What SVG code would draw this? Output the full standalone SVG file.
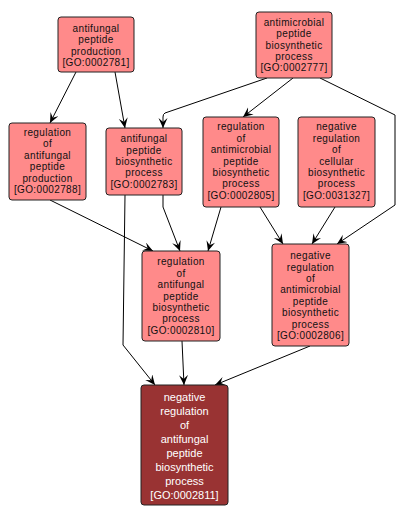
<svg xmlns="http://www.w3.org/2000/svg" width="405" height="519" viewBox="0 0 405 519">
<defs>
<style>
.n rect{fill:#ff8a8a;stroke:#222;stroke-width:1}
.n text{font-family:"Liberation Sans",Arial,sans-serif;font-size:10px;letter-spacing:0.35px;fill:#111;text-anchor:middle}
.d rect{fill:#993333;stroke:#222;stroke-width:1}
.d text{font-family:"Liberation Sans",Arial,sans-serif;font-size:11px;fill:#fff;text-anchor:middle}
.e path{fill:none;stroke:#000;stroke-width:1;marker-end:url(#ah)}
</style>
<marker id="ah" markerUnits="userSpaceOnUse" markerWidth="12" markerHeight="10" refX="10" refY="4.5" orient="auto" viewBox="0 0 12 10">
<path d="M0,0 L10,4.5 L0,9 L4,4.5 Z" fill="#000"/>
</marker>
</defs>
<rect width="405" height="519" fill="#fff"/>
<g id="edges" class="e">
<path d="M76,72 L50,123"/>
<path d="M115,72 L125,128"/>
<path d="M267,78 L165,113 Q163,114 163,117 L163,128"/>
<path d="M293,78 L243,117"/>
<path d="M320,78 L395,115 L395,205 L337,244"/>
<path d="M50,200 L153,251"/>
<path d="M163,195 L163,207 L180,251"/>
<path d="M125,195 L123,345 L155,385"/>
<path d="M221,207 L208,251"/>
<path d="M260,207 L283,244"/>
<path d="M335,207 L312,244"/>
<path d="M182,341 L184,385"/>
<path d="M310,346 L215,385"/>
</g>
<g id="GO0002781" class="n">
<rect x="58" y="17" width="76" height="55" rx="3"/>
<text x="96" y="32">antifungal</text>
<text x="96" y="43.4">peptide</text>
<text x="96" y="54.8">production</text>
<text x="96" y="66.2">[GO:0002781]</text>
</g>
<g id="GO0002777" class="n">
<rect x="256" y="12" width="76" height="66" rx="3"/>
<text x="294" y="25.7">antimicrobial</text>
<text x="294" y="37.1">peptide</text>
<text x="294" y="48.5">biosynthetic</text>
<text x="294" y="59.9">process</text>
<text x="294" y="71.3">[GO:0002777]</text>
</g>
<g id="GO0002788" class="n">
<rect x="9" y="123" width="77" height="77" rx="3"/>
<text x="47.5" y="136">regulation</text>
<text x="47.5" y="147.4">of</text>
<text x="47.5" y="158.8">antifungal</text>
<text x="47.5" y="170.2">peptide</text>
<text x="47.5" y="181.6">production</text>
<text x="47.5" y="193">[GO:0002788]</text>
</g>
<g id="GO0002783" class="n">
<rect x="106" y="128" width="76" height="67" rx="3"/>
<text x="144" y="142.2">antifungal</text>
<text x="144" y="153.6">peptide</text>
<text x="144" y="165">biosynthetic</text>
<text x="144" y="176.4">process</text>
<text x="144" y="187.8">[GO:0002783]</text>
</g>
<g id="GO0002805" class="n">
<rect x="203" y="117" width="76" height="90" rx="3"/>
<text x="241" y="130.3">regulation</text>
<text x="241" y="141.7">of</text>
<text x="241" y="153.1">antimicrobial</text>
<text x="241" y="164.5">peptide</text>
<text x="241" y="175.9">biosynthetic</text>
<text x="241" y="187.3">process</text>
<text x="241" y="198.7">[GO:0002805]</text>
</g>
<g id="GO0031327" class="n">
<rect x="298" y="117" width="77" height="90" rx="3"/>
<text x="336.5" y="130.3">negative</text>
<text x="336.5" y="141.7">regulation</text>
<text x="336.5" y="153.1">of</text>
<text x="336.5" y="164.5">cellular</text>
<text x="336.5" y="175.9">biosynthetic</text>
<text x="336.5" y="187.3">process</text>
<text x="336.5" y="198.7">[GO:0031327]</text>
</g>
<g id="GO0002810" class="n">
<rect x="142" y="251" width="78" height="90" rx="3"/>
<text x="181" y="265.3">regulation</text>
<text x="181" y="276.7">of</text>
<text x="181" y="288.1">antifungal</text>
<text x="181" y="299.5">peptide</text>
<text x="181" y="310.9">biosynthetic</text>
<text x="181" y="322.3">process</text>
<text x="181" y="333.7">[GO:0002810]</text>
</g>
<g id="GO0002806" class="n">
<rect x="272" y="244" width="77" height="102" rx="3"/>
<text x="310.5" y="259.1">negative</text>
<text x="310.5" y="270.5">regulation</text>
<text x="310.5" y="281.9">of</text>
<text x="310.5" y="293.3">antimicrobial</text>
<text x="310.5" y="304.7">peptide</text>
<text x="310.5" y="316.1">biosynthetic</text>
<text x="310.5" y="327.5">process</text>
<text x="310.5" y="338.9">[GO:0002806]</text>
</g>
<g id="GO0002811" class="d">
<rect x="141" y="385" width="87" height="120" rx="3"/>
<text x="184.5" y="401">negative</text>
<text x="184.5" y="415">regulation</text>
<text x="184.5" y="429">of</text>
<text x="184.5" y="443">antifungal</text>
<text x="184.5" y="457">peptide</text>
<text x="184.5" y="471">biosynthetic</text>
<text x="184.5" y="485">process</text>
<text x="184.5" y="499">[GO:0002811]</text>
</g>
</svg>
